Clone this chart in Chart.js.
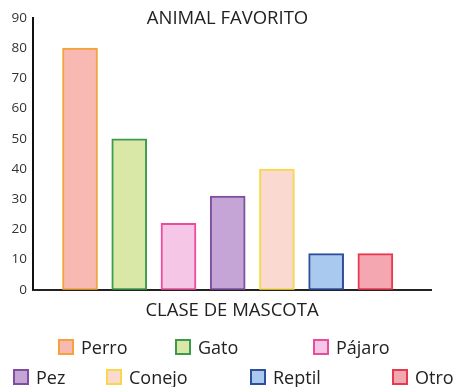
<!DOCTYPE html>
<html>
<head>
<meta charset="utf-8">
<script src="https://cdn.jsdelivr.net/npm/chart.js@4"></script>
<style>
  html, body { margin: 0; padding: 0; background: #fff; }
  #wrap { position: relative; width: 454px; height: 387px; }
  #c { position: absolute; left: 0; top: 0; }
  .lg { position: absolute; height: 22px; display: flex; align-items: center;
        font-family: "Open Sans", sans-serif; font-size: 18px; color: #222; white-space: nowrap; }
  .lg .box { width: 12px; height: 12px; border: 2px solid; margin-right: 7px; }
</style>
</head>
<body>
<div id="wrap">
  <canvas id="c" width="454" height="387"></canvas>
</div>
<script>
// ---- data ----
const categories = ["Perro", "Gato", "Pájaro", "Pez", "Conejo", "Reptil", "Otro"];
const values = [80, 50, 22, 31, 40, 12, 12];
const fillColors = ["#f7b9b1", "#d9e8a6", "#f6c6e6", "#c4a5d6", "#f9d9d0", "#a9c9ef", "#f5a7b1"];
const borderColors = ["#f3a33c", "#3c9a4c", "#ea4d9b", "#7e4f9e", "#f8d84a", "#2f4f9d", "#e83a4f"];
const yTicks = [0, 10, 20, 30, 40, 50, 60, 70, 80, 90];
const chartTitle = "ANIMAL FAVORITO";
const xTitle = "CLASE DE MASCOTA";

// legend layout (left, top) per item
const legendSlots = [[58, 336], [175, 336], [313, 336], [13, 366], [106, 366], [250, 366], [392, 366]];

const points = values.map((v, i) => ({ x: i, y: v }));

const titlePlugin = {
  id: 'innerTitle',
  afterDraw(chart) {
    const ctx = chart.ctx;
    ctx.save();
    ctx.font = '18.5px "Open Sans", sans-serif';
    ctx.fillStyle = '#222';
    ctx.textAlign = 'center';
    ctx.textBaseline = 'middle';
    ctx.fillText(chartTitle, 227.5, 19);
    ctx.restore();
  }
};

new Chart(document.getElementById('c'), {
  type: 'bar',
  data: {
    datasets: [{
      data: points,
      backgroundColor: fillColors,
      borderColor: borderColors,
      borderWidth: 2,
      borderSkipped: false,
      barThickness: 35
    }]
  },
  options: {
    responsive: false,
    animation: false,
    layout: { padding: { left: 0, right: 23, top: 18, bottom: 65 } },
    plugins: { legend: { display: false }, tooltip: { enabled: false }, title: { display: false } },
    scales: {
      x: {
        type: 'linear',
        offset: false,
        min: -0.955,
        max: 7.13,
        grid: { display: false, drawTicks: false, offset: false },
        border: { display: true, color: '#222', width: 2 },
        ticks: { display: false },
        title: { display: true, text: xTitle, color: '#222',
                 font: { family: '"Open Sans", sans-serif', size: 18.5 },
                 padding: { top: 10, bottom: 0 } }
      },
      y: {
        min: 0,
        max: 90,
        afterFit(scale) { scale.width = 33; },
        afterBuildTicks(scale) { scale.ticks = yTicks.map(v => ({ value: v })); },
        grid: { display: false, drawTicks: false },
        border: { display: true, color: '#111', width: 2 },
        ticks: { color: '#333', padding: 6,
                 font: { family: '"Open Sans", sans-serif', size: 13.5 } }
      }
    }
  },
  plugins: [titlePlugin]
});

// HTML legend
const wrap = document.getElementById('wrap');
categories.forEach((name, i) => {
  const d = document.createElement('div');
  d.className = 'lg';
  d.style.left = legendSlots[i][0] + 'px';
  d.style.top = legendSlots[i][1] + 'px';
  const b = document.createElement('span');
  b.className = 'box';
  b.style.background = fillColors[i];
  b.style.borderColor = borderColors[i];
  d.appendChild(b);
  d.appendChild(document.createTextNode(name));
  wrap.appendChild(d);
});
</script>
</body>
</html>
